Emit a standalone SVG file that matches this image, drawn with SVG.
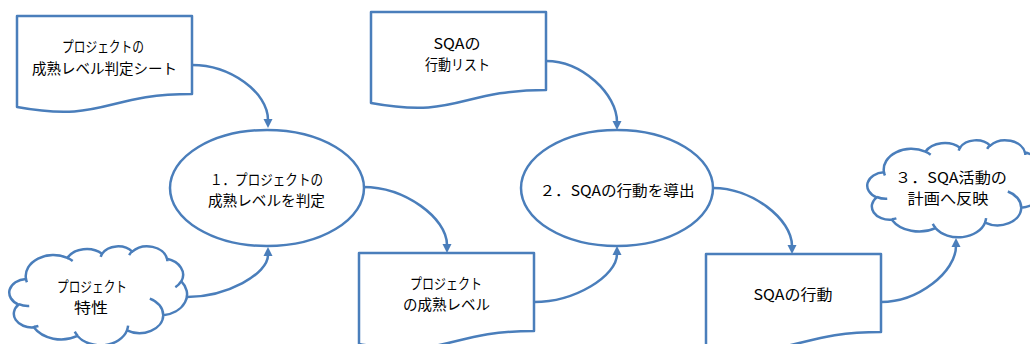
<svg xmlns="http://www.w3.org/2000/svg" width="1030" height="344" viewBox="0 0 1030 344">
<style>
.shape{fill:#fff;stroke:#4a7ebb;stroke-width:2.5;stroke-linejoin:round}
.ns{vector-effect:non-scaling-stroke}
.inner{fill:none;stroke:#4a7ebb;stroke-width:2.5;vector-effect:non-scaling-stroke}
.conn{fill:none;stroke:#4a7ebb;stroke-width:2.5}
text{font-family:"Noto Sans CJK JP","Noto Sans CJK SC",sans-serif;font-size:14.5px;fill:#000;text-anchor:middle;dominant-baseline:central}
</style>
<defs>
<marker id="ah" markerUnits="userSpaceOnUse" markerWidth="12" markerHeight="12" viewBox="0 -6 10 12" refX="1" refY="0" orient="auto">
<path d="M0,-4.5 L9,0 L0,4.5 z" fill="#4a7ebb"/>
</marker>
</defs>
<rect width="1030" height="344" fill="#fff"/>

<g id="connectors">
<path class="conn" marker-end="url(#ah)" d="M192,65 C230,65 268,92 268,120"/>
<path class="conn" marker-end="url(#ah)" d="M187,297 C227,297 268,274 268,255"/>
<path class="conn" marker-end="url(#ah)" d="M363,187 C405,187 447,218 447,245"/>
<path class="conn" marker-end="url(#ah)" d="M534,302 C575,302 617,276 617,254"/>
<path class="conn" marker-end="url(#ah)" d="M546,61 C582,61 617,94 617,122"/>
<path class="conn" marker-end="url(#ah)" d="M713,188 C752,188 792,219 792,246"/>
<path class="conn" marker-end="url(#ah)" d="M881,302 C918,302 956,272 956,246"/>
</g>

<g id="doc-maturity-sheet">
<path class="shape" d="M17,16 H192 V94 C104.5,94 104.5,123 17,107 Z"/>
<text x="103" y="45.5" textLength="82" lengthAdjust="spacingAndGlyphs">プロジェクトの</text>
<text x="104.5" y="67" textLength="145" lengthAdjust="spacingAndGlyphs">成熟レベル判定シート</text>
</g>

<g id="doc-sqa-list">
<path class="shape" d="M371,12 H546 V90 C458.5,90 458.5,119 371,103 Z"/>
<text x="457" y="42" textLength="47" lengthAdjust="spacingAndGlyphs">SQAの</text>
<text x="457.5" y="63" textLength="65" lengthAdjust="spacingAndGlyphs">行動リスト</text>
</g>

<g id="proc-1">
<ellipse class="shape" cx="267" cy="188" rx="97" ry="58"/>
<text x="266.5" y="178.5" textLength="113" lengthAdjust="spacingAndGlyphs">１．プロジェクトの</text>
<text x="266.5" y="199.5" textLength="117" lengthAdjust="spacingAndGlyphs">成熟レベルを判定</text>
</g>

<g id="proc-2">
<ellipse class="shape" cx="617" cy="188" rx="96" ry="58"/>
<text x="617" y="189" textLength="155" lengthAdjust="spacingAndGlyphs">２．SQAの行動を導出</text>
</g>

<g id="cloud-project-traits">
<g transform="translate(10,246) scale(0.0040972,0.0022917)">
<path class="shape ns" d="M3900,14370 A6753,9190 0 0 1 14004,5202 A5333,7267 0 0 1 22455,3432 A4365,5945 0 0 1 29832,2481 A4857,6595 0 0 1 38317,5576 A5333,7273 0 0 1 41817,15460 A6775,9220 0 0 1 37402,30202 A5785,7867 0 0 1 28554,36812 A6752,9215 0 0 1 16479,39264 A7720,10543 0 0 1 5802,35469 A4360,5918 0 0 1 2111,25547 A4345,5945 0 0 1 3900,14370 Z"/>
<path class="inner" d="M4693,26177 A4345,5945 0 0 1 2160,25380 M6928,34899 A4360,5918 0 0 1 5819,35281 M16478,39090 A6752,9215 0 0 1 15810,37349 M28827,34751 A6752,9215 0 0 1 28560,36660 M34129,22954 A5785,7867 0 0 1 37381,30090 M41798,15354 A5333,7273 0 0 1 40350,18030 M38324,5426 A4857,6595 0 0 1 38400,6690 M29078,3952 A4857,6595 0 0 1 29820,2340 M22141,4720 A4365,5945 0 0 1 22500,3330 M14000,5192 A6753,9190 0 0 1 15300,6540 M4127,15789 A6753,9190 0 0 1 3900,14370"/>
</g>
<text x="92" y="285" textLength="70" lengthAdjust="spacingAndGlyphs">プロジェクト</text>
<text x="91" y="306" textLength="34" lengthAdjust="spacingAndGlyphs">特性</text>
</g>

<g id="doc-maturity-level">
<path class="shape" d="M359,253 H534 V331 C446.5,331 446.5,360 359,344 Z"/>
<text x="446" y="282" textLength="72" lengthAdjust="spacingAndGlyphs">プロジェクト</text>
<text x="446.5" y="303" textLength="87" lengthAdjust="spacingAndGlyphs">の成熟レベル</text>
</g>

<g id="doc-sqa-action">
<path class="shape" d="M706,254 H881 V332 C793.5,332 793.5,361 706,345 Z"/>
<text x="793" y="293" textLength="79" lengthAdjust="spacingAndGlyphs">SQAの行動</text>
</g>

<g id="cloud-plan">
<g transform="translate(868,140) scale(0.0040972,0.0022454)">
<path class="shape ns" d="M3900,14370 A6753,9190 0 0 1 14004,5202 A5333,7267 0 0 1 22455,3432 A4365,5945 0 0 1 29832,2481 A4857,6595 0 0 1 38317,5576 A5333,7273 0 0 1 41817,15460 A6775,9220 0 0 1 37402,30202 A5785,7867 0 0 1 28554,36812 A6752,9215 0 0 1 16479,39264 A7720,10543 0 0 1 5802,35469 A4360,5918 0 0 1 2111,25547 A4345,5945 0 0 1 3900,14370 Z"/>
<path class="inner" d="M4693,26177 A4345,5945 0 0 1 2160,25380 M6928,34899 A4360,5918 0 0 1 5819,35281 M16478,39090 A6752,9215 0 0 1 15810,37349 M28827,34751 A6752,9215 0 0 1 28560,36660 M34129,22954 A5785,7867 0 0 1 37381,30090 M41798,15354 A5333,7273 0 0 1 40350,18030 M38324,5426 A4857,6595 0 0 1 38400,6690 M29078,3952 A4857,6595 0 0 1 29820,2340 M22141,4720 A4365,5945 0 0 1 22500,3330 M14000,5192 A6753,9190 0 0 1 15300,6540 M4127,15789 A6753,9190 0 0 1 3900,14370"/>
</g>
<text x="951" y="176.5" textLength="112" lengthAdjust="spacingAndGlyphs">３．SQA活動の</text>
<text x="948" y="197.5" textLength="81" lengthAdjust="spacingAndGlyphs">計画へ反映</text>
</g>
</svg>
